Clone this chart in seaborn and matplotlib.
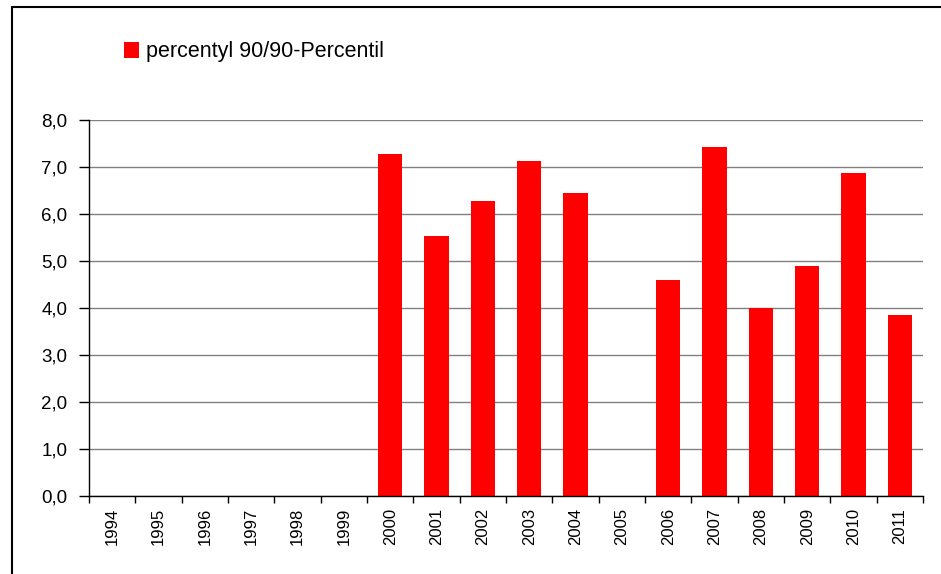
import numpy as np
import pandas as pd
import matplotlib
matplotlib.use("Agg")
import matplotlib.pyplot as plt
from matplotlib.lines import Line2D
from matplotlib.ticker import FixedLocator, FuncFormatter
import seaborn as sns

# 90th percentile values per year (no data for 1994-1999 and 2005)
years = ["1994", "1995", "1996", "1997", "1998", "1999", "2000", "2001", "2002",
         "2003", "2004", "2005", "2006", "2007", "2008", "2009", "2010", "2011"]
values = [np.nan, np.nan, np.nan, np.nan, np.nan, np.nan, 7.28, 5.54, 6.28,
          7.13, 6.45, np.nan, 4.60, 7.43, 4.00, 4.89, 6.88, 3.86]
series_label = "percentyl 90/90-Percentil"
y_ticks = [0, 1, 2, 3, 4, 5, 6, 7, 8]

df = pd.DataFrame({"year": years, "value": values})

sns.set_theme(style="white")
plt.rcParams["font.family"] = ["Liberation Sans", "DejaVu Sans"]
plt.rcParams["text.color"] = "black"
plt.rcParams["xtick.color"] = "black"
plt.rcParams["ytick.color"] = "black"
plt.rcParams["axes.labelcolor"] = "black"

fig = plt.figure(figsize=(9.41, 5.74), dpi=100)
ax = fig.add_axes([89 / 941, 1 - 496 / 574, (923 - 89) / 941, (496 - 120) / 574])

sns.barplot(data=df, x="year", y="value", order=years, color="#ff0000",
            saturation=1, width=0.52, linewidth=0, label=series_label, ax=ax)
if ax.get_legend() is not None:
    ax.get_legend().remove()

ax.set_xlim(-0.5, len(years) - 0.5)
ax.set_ylim(0, 8)
ax.set_xlabel("")
ax.set_ylabel("")

# grid lines
ax.yaxis.set_major_locator(FixedLocator(y_ticks))
ax.yaxis.set_major_formatter(FuncFormatter(lambda v, p: f"{v:.1f}".replace(".", ",")))
ax.grid(axis="y", color="#808080", linewidth=1.0)
ax.set_axisbelow(True)

for side in ("top", "right"):
    ax.spines[side].set_visible(False)
for side in ("left", "bottom"):
    ax.spines[side].set_color("black")
    ax.spines[side].set_linewidth(1.0)

ax.tick_params(axis="y", which="major", direction="out", length=7, width=1,
               color="black", labelcolor="black", labelsize=13.5, pad=8.5, left=True)

# category labels centred, tick marks at category boundaries
ax.set_xticks(range(len(years)))
ax.set_xticklabels(years, rotation=90, fontsize=12)
ax.tick_params(axis="x", which="major", length=0, pad=8.5, labelcolor="black")
ax.set_xticks(np.arange(-0.5, len(years), 1.0), minor=True)
ax.tick_params(axis="x", which="minor", direction="out", length=5, width=1,
               color="black", bottom=True)
for lab in ax.get_xticklabels():
    lab.set_verticalalignment("top")

# legend
handles, labels = ax.get_legend_handles_labels()
fig.legend(handles, labels, loc="center left",
           bbox_to_anchor=(124 / 941, 1 - 52 / 574), frameon=False,
           fontsize=15.5, handlelength=0.7, handleheight=0.7,
           handletextpad=0.3, borderpad=0, borderaxespad=0)

# outer frame (top and left edges)
fig.add_artist(Line2D([12 / 941, 1.0], [1 - 7 / 574, 1 - 7 / 574],
                      transform=fig.transFigure, color="black", linewidth=1.5))
fig.add_artist(Line2D([12 / 941, 12 / 941], [0.0, 1 - 7 / 574],
                      transform=fig.transFigure, color="black", linewidth=1.5))

fig.savefig("out.png", dpi=100, facecolor="white")
